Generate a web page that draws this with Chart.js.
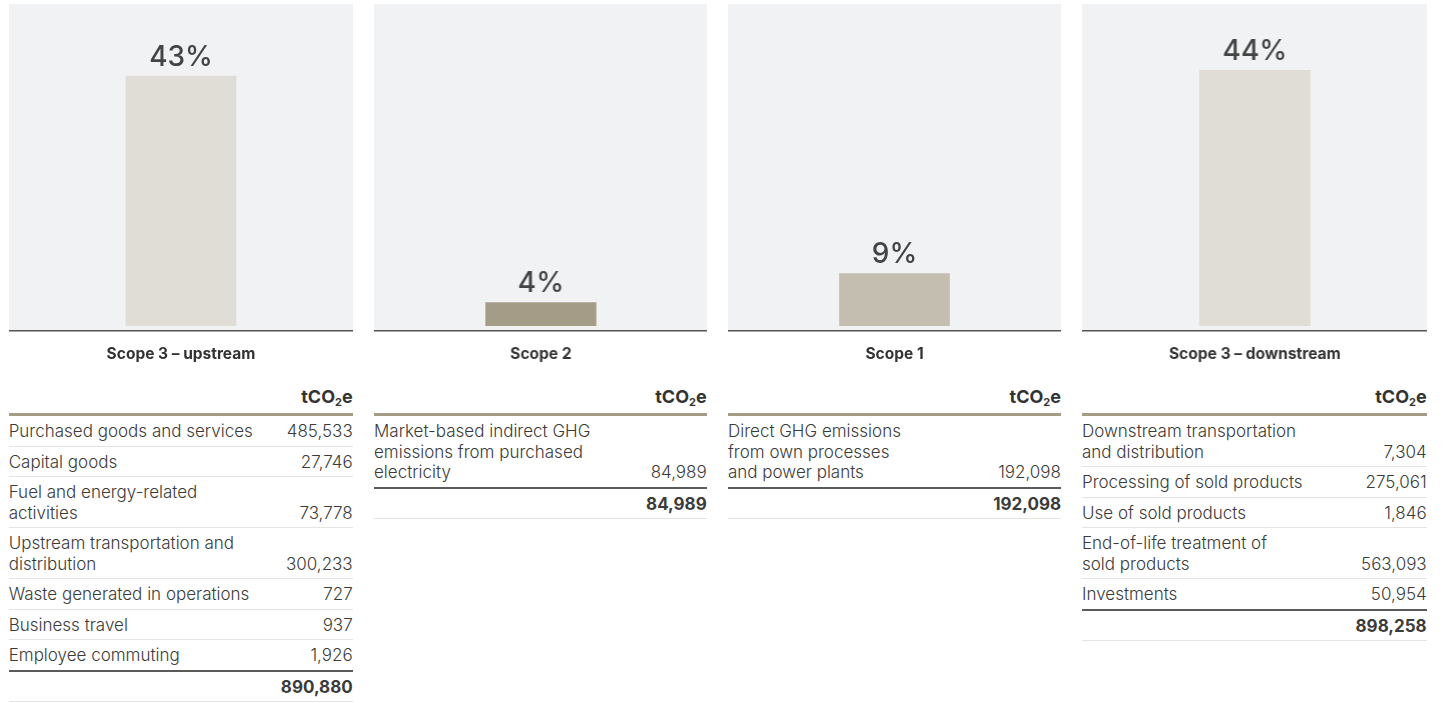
<!DOCTYPE html>
<html lang="en">
<head>
<meta charset="UTF-8">
<title>GHG emissions by scope</title>
<script src="https://cdn.jsdelivr.net/npm/chart.js@4.4.1/dist/chart.umd.min.js"></script>
<style>
    body{ margin:0; background:#fff; font-family:Inter, "Noto Sans", sans-serif; color:#3b3b3b; }
    .panel{ position:absolute; top:4px; }
    .chartbox{ position:relative; height:367px; }
    table{ position:absolute; top:383px; left:0; width:100%; border-collapse:collapse; font-size:17px; font-weight:300; }
    th{ text-align:right; font-weight:700; font-size:18px; line-height:20px; padding:0 0 6px; border-bottom:3px solid #a59c87; color:#333; }
    th sub{ font-size:11px; vertical-align:-3px; line-height:0; }
    td{ padding:5px 0 4px; line-height:20.5px; border-bottom:1px solid #e4e4e4; vertical-align:bottom; }
    td.lab{ white-space:pre; }
    td.num{ text-align:right; white-space:nowrap; }
    tr.total td{ border-top:2px solid #5a5a5a; font-weight:700; }
</style>
</head>
<body>
<div id="wrap"></div>
<script>
    // 막대 데이터
    const scopes = ['Scope 3 \u2013 upstream', 'Scope 2', 'Scope 1', 'Scope 3 \u2013 downstream'];
    const shares = [43, 4, 9, 44];

    // 표 데이터 (줄바꿈은 원본 그대로)
    const upstreamItems = ['Purchased goods and services', 'Capital goods', 'Fuel and energy-related\nactivities',
        'Upstream transportation and\ndistribution', 'Waste generated in operations', 'Business travel', 'Employee commuting'];
    const upstreamValues = ['485,533', '27,746', '73,778', '300,233', '727', '937', '1,926'];
    const scope2Items = ['Market-based indirect GHG\nemissions from purchased\nelectricity'];
    const scope2Values = ['84,989'];
    const scope1Items = ['Direct GHG emissions\nfrom own processes\nand power plants'];
    const scope1Values = ['192,098'];
    const downstreamItems = ['Downstream transportation\nand distribution', 'Processing of sold products', 'Use of sold products',
        'End-of-life treatment of\nsold products', 'Investments'];
    const downstreamValues = ['7,304', '275,061', '1,846', '563,093', '50,954'];
    const totals = ['890,880', '84,989', '192,098', '898,258'];

    const tableItems = [upstreamItems, scope2Items, scope1Items, downstreamItems];
    const tableValues = [upstreamValues, scope2Values, scope1Values, downstreamValues];

    // 배치/색
    const panelLeft = [8.7, 374, 728, 1082];
    const panelWidth = [344, 332.7, 333, 344.7];
    const barColors = ['#dfddd5', '#a59c87', '#c4beb1', '#dfddd5'];

    const bgPlugin = { // 회색 배경
        id: 'bg',
        beforeDraw(chart){
            const a = chart.chartArea, c = chart.ctx;
            c.save(); c.fillStyle = '#f1f2f4';
            c.fillRect(a.left, a.top, a.right - a.left, a.bottom - a.top);
            c.restore();
        }
    };
    const pctPlugin = { // 막대 위 퍼센트
        id: 'pct',
        afterDatasetsDraw(chart){
            const c = chart.ctx;
            const bar = chart.getDatasetMeta(0).data[0];
            c.save();
            c.font = '500 28px Inter';
            c.fillStyle = '#444';
            c.textAlign = 'center';
            c.textBaseline = 'alphabetic';
            c.fillText(chart.data.datasets[0].data[0] + '%', bar.x, bar.y - 10.5);
            c.restore();
        }
    };

    const wrap = document.getElementById('wrap');
    scopes.forEach((name, i) => {
        const panel = document.createElement('div');
        panel.className = 'panel';
        panel.style.left = panelLeft[i] + 'px';
        panel.style.width = panelWidth[i] + 'px';

        const box = document.createElement('div');
        box.className = 'chartbox';
        const cv = document.createElement('canvas');
        box.appendChild(cv);
        panel.appendChild(box);

        let html = '<tr><th></th><th>tCO<sub>2</sub>e</th></tr>';
        tableItems[i].forEach((lab, j) => {
            html += '<tr><td class="lab">' + lab + '</td><td class="num">' + tableValues[i][j] + '</td></tr>';
        });
        html += '<tr class="total"><td></td><td class="num">' + totals[i] + '</td></tr>';
        const tb = document.createElement('table');
        tb.innerHTML = html;
        panel.appendChild(tb);
        wrap.appendChild(panel);

        new Chart(cv, {
            type: 'bar',
            data: {
                labels: [name],
                datasets: [{ data: [shares[i]], backgroundColor: barColors[i], barThickness: 110, borderWidth: 0 }]
            },
            options: {
                responsive: true,
                maintainAspectRatio: false,
                animation: false,
                layout: { padding: 0 },
                plugins: { legend: { display: false }, tooltip: { enabled: false } },
                scales: {
                    x: {
                        grid: { display: false },
                        border: { display: true, color: '#555', width: 1.5 },
                        ticks: { color: '#333', padding: 7, font: { family: 'Inter', size: 15.5, weight: '700' } }
                    },
                    y: { display: false, min: -0.8, max: 55.4 }
                }
            },
            plugins: [bgPlugin, pctPlugin]
        });
    });
</script>
</body>
</html>
